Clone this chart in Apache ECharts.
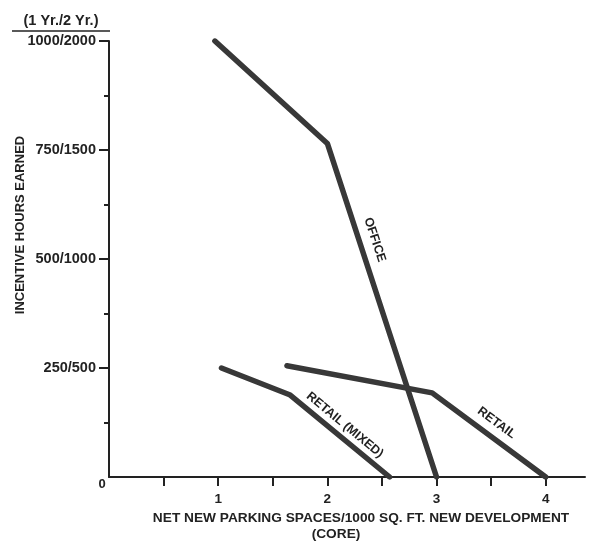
<!DOCTYPE html>
<html>
<head>
<meta charset="utf-8">
<script src="https://cdn.jsdelivr.net/npm/echarts@6/dist/echarts.min.js"></script>
<style>html,body{margin:0;padding:0;background:#fff;}#c{width:602px;height:542px;}</style>
</head>
<body>
<div id="c"></div>
<script>
// ---- data ----
const seriesNames = ['OFFICE', 'RETAIL (MIXED)', 'RETAIL'];
const officeX = [0.97, 2.0, 3.0];
const officeY = [1000, 765, 0];
const retailMixedX = [1.03, 1.66, 2.57];
const retailMixedY = [250, 188, 0];
const retailX = [1.63, 2.96, 4.0];
const retailY = [255, 193, 0];
const xTickValues = [1, 2, 3, 4];
const xTickLabels = ['1', '2', '3', '4'];
const xMinorTickValues = [0.5, 1, 1.5, 2, 2.5, 3, 3.5, 4];
const yTickValues = [250, 500, 750, 1000];
const yTickLabels = ['250/500', '500/1000', '750/1500', '1000/2000'];
const yHeader = '(1 Yr./2 Yr.)';
const xTitle = 'NET NEW PARKING SPACES/1000 SQ. FT. NEW DEVELOPMENT';
const xSubTitle = '(CORE)';
const yTitle = 'INCENTIVE HOURS EARNED';
// label anchor points (data coords) for the line annotations
const labelAnchorX = [2.434, 2.16, 3.55];
const labelAnchorY = [544, 119, 124];

const FONT = 'Liberation Sans, Arial, sans-serif';
const INK = '#222';
const LINE = '#383838';

const chart = echarts.init(document.getElementById('c'), null, {renderer: 'canvas'});
const zip = (xs, ys) => xs.map((x, i) => [x, ys[i]]);
const seriesData = [zip(officeX, officeY), zip(retailMixedX, retailMixedY), zip(retailX, retailY)];

chart.setOption({
  animation: false,
  backgroundColor: '#fff',
  grid: {left: 109, right: 17, top: 41, bottom: 65, containLabel: false},
  xAxis: {
    type: 'value', min: 0, max: 4.36,
    axisLine: {show: true, lineStyle: {color: INK, width: 2}},
    axisTick: {show: true, customValues: xMinorTickValues, length: 9, lineStyle: {color: INK, width: 2}},
    axisLabel: {
      show: true, customValues: xTickValues, margin: 15,
      formatter: v => xTickLabels[xTickValues.indexOf(v)] || '',
      color: INK, fontFamily: FONT, fontSize: 13.5, fontWeight: 'bold'
    },
    splitLine: {show: false}
  },
  yAxis: {
    type: 'value', min: 0, max: 1000, interval: 250,
    axisLine: {show: true, lineStyle: {color: INK, width: 2}},
    axisTick: {show: true, customValues: yTickValues, length: 10, lineStyle: {color: INK, width: 2}},
    minorTick: {show: true, splitNumber: 2, length: 5, lineStyle: {color: INK, width: 2}},
    axisLabel: {
      show: true, customValues: yTickValues, margin: 13,
      formatter: v => yTickLabels[yTickValues.indexOf(v)] || '',
      color: INK, fontFamily: FONT, fontSize: 14.5, fontWeight: 'bold'
    },
    splitLine: {show: false}
  },
  series: seriesNames.map((name, i) => ({
    name, type: 'line', data: seriesData[i], showSymbol: false, symbol: 'none',
    lineStyle: {color: LINE, width: 5.5, cap: 'round', join: 'round'}
  }))
});

// annotations computed through the chart's scales
const px = p => chart.convertToPixel({gridIndex: 0}, p);
const graphics = [];
seriesNames.forEach((name, i) => {
  const d = seriesData[i];
  const a = px(d[1]), b = px(d[2]);
  const ang = Math.atan2(b[1] - a[1], b[0] - a[0]);
  const c = px([labelAnchorX[i], labelAnchorY[i]]);
  graphics.push({
    type: 'text', x: c[0], y: c[1], rotation: -ang,
    style: {text: name, align: 'center', verticalAlign: 'middle', fill: INK,
            font: 'bold 12.5px ' + FONT}
  });
});
// zero label at the corner
const o = px([0, 0]);
graphics.push({type: 'text', x: o[0] - 7, y: o[1] + 7,
  style: {text: '0', align: 'center', verticalAlign: 'middle', fill: INK, font: 'bold 13px ' + FONT}});
// header over the y axis
graphics.push({type: 'text', x: 61, y: 21,
  style: {text: yHeader, align: 'center', verticalAlign: 'middle', fill: INK, font: 'bold 14.5px ' + FONT}});
graphics.push({type: 'line', shape: {x1: 12, y1: 31, x2: 110, y2: 31}, style: {stroke: INK, lineWidth: 1.5}});
// axis titles
graphics.push({type: 'text', x: 20, y: 225, rotation: Math.PI / 2,
  style: {text: yTitle, align: 'center', verticalAlign: 'middle', fill: INK, font: 'bold 13px ' + FONT}});
graphics.push({type: 'text', x: 361, y: 518,
  style: {text: xTitle, align: 'center', verticalAlign: 'middle', fill: INK, font: 'bold 13.7px ' + FONT}});
graphics.push({type: 'text', x: 336, y: 534,
  style: {text: xSubTitle, align: 'center', verticalAlign: 'middle', fill: INK, font: 'bold 13.7px ' + FONT}});
chart.setOption({graphic: graphics});
</script>
</body>
</html>
